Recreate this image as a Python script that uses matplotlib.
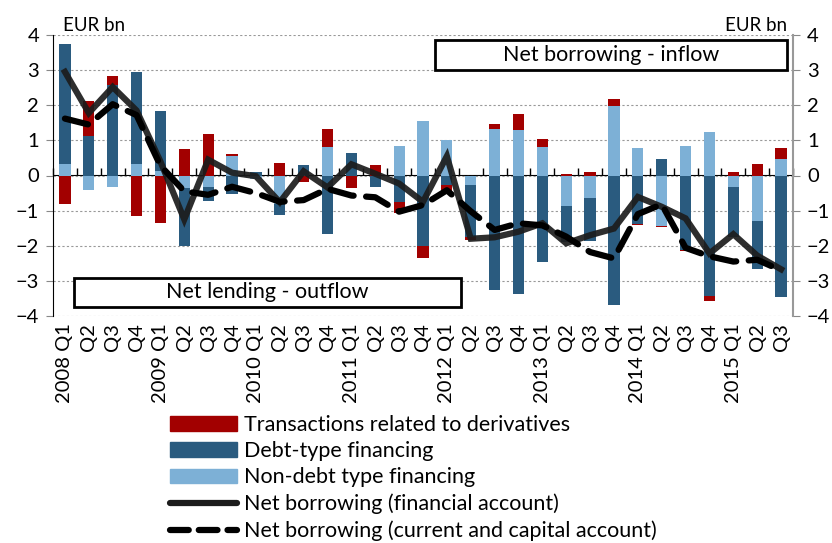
import numpy as np
import matplotlib
matplotlib.use("Agg")
import matplotlib.pyplot as plt
from matplotlib.patches import Patch, Rectangle
from matplotlib.lines import Line2D

plt.rcParams['font.family'] = ['Lato', 'DejaVu Sans']

# quarters 2008 Q1 .. 2015 Q3
years = list(range(2008, 2016))
quarters = []
for yr in years:
    for q in range(1, 5):
        if yr == 2015 and q == 4:
            break
        quarters.append((yr, q))
tick_labels = [f"{yr} Q{q}" if q == 1 else f"Q{q}" for yr, q in quarters]

# EUR bn
derivatives = [-0.80, 1.00, 0.27, -1.16, -1.36, 0.75, 1.17, 0.05, 0.00, 0.37,
               -0.18, 0.49, -0.37, 0.29, -0.33, -0.35, -0.24, -0.10, 0.17, 0.45,
               0.23, 0.04, 0.11, 0.20, -0.04, -0.05, -0.03, -0.15, 0.10, 0.34, 0.29]
debt = [3.39, 1.12, 2.57, 2.62, 1.70, -1.64, -0.40, -0.54, 0.10, -0.33,
        0.29, -1.67, 0.65, -0.32, -0.75, -2.00, -0.27, -1.47, -3.26, -3.37,
        -2.47, -1.02, -1.23, -3.70, -1.38, 0.48, -2.12, -3.42, -1.43, -1.37, -3.47]
non_debt = [0.34, -0.40, -0.34, 0.34, 0.13, -0.37, -0.32, 0.55, -0.10, -0.80,
            0.00, 0.82, 0.00, 0.00, 0.84, 1.55, 1.02, -0.27, 1.31, 1.29,
            0.82, -0.87, -0.63, 1.99, 0.79, -1.43, 0.84, 1.24, -0.32, -1.30, 0.48]
net_fin = [2.95, 1.78, 2.52, 1.85, 0.40, -1.25, 0.45, 0.08, -0.02, -0.76,
           0.12, -0.34, 0.32, 0.05, -0.23, -0.75, 0.55, -1.80, -1.76, -1.60,
           -1.36, -1.93, -1.70, -1.51, -0.61, -0.89, -1.22, -2.22, -1.67, -2.28, -2.67]
net_cur = [1.62, 1.45, 2.03, 1.72, 0.28, -0.45, -0.55, -0.32, -0.50, -0.75,
           -0.70, -0.38, -0.57, -0.62, -1.03, -0.84, -0.42, -1.02, -1.55, -1.36,
           -1.42, -1.74, -2.18, -2.36, -1.10, -0.82, -2.06, -2.30, -2.45, -2.40, -2.70]

red = '#A20000'
dblue = '#2A5B7F'
lblue = '#7DB0D6'
FS = 14.5

fig = plt.figure(figsize=(8.32, 5.43), dpi=100)
ax = fig.add_axes([53/832, 1-316/543, 740/832, 281/543])

x = np.arange(len(quarters))
w = 0.47

# stacked bars, positives up and negatives down separately
pos_base = np.zeros(len(x))
neg_base = np.zeros(len(x))
for vals, col in [(non_debt, lblue), (debt, dblue), (derivatives, red)]:
    v = np.array(vals)
    p = np.where(v > 0, v, 0)
    n = np.where(v < 0, v, 0)
    ax.bar(x, p, w, bottom=pos_base, color=col, zorder=2)
    ax.bar(x, n, w, bottom=neg_base, color=col, zorder=2)
    pos_base += p
    neg_base += n

ax.plot(x, net_fin, color='#1c1c1c', lw=4.5, alpha=0.92, solid_joinstyle='miter', zorder=4)
ax.plot(x, net_cur, color='black', lw=4.5, dashes=(3.8, 2.0), dash_capstyle='round', zorder=5)

ax.set_xlim(-0.5, len(x) - 0.5)
ax.set_ylim(-4, 4)
ax.set_yticks(range(-4, 5))
ax.tick_params(axis='y', labelsize=FS, direction='out', length=5, color='#888888', pad=5)
ax.set_xticks(x)
ax.set_xticklabels(tick_labels, rotation=90, fontsize=FS)
ax.tick_params(axis='x', length=0, pad=5)
ax.yaxis.grid(True, linestyle=(0, (2, 2)), color='#999999', lw=0.8)
ax.set_axisbelow(True)
for s in ['top', 'bottom']:
    ax.spines[s].set_visible(False)
ax.spines['left'].set_color('black')
ax.spines['right'].set_visible(False)

# zero line with category boundary ticks
zero = ax.secondary_xaxis(0.5)
zero.set_xticks(np.arange(-0.5, len(x), 1.0))
zero.set_xticklabels([])
zero.tick_params(direction='out', length=5, width=1, color='black')
zero.spines['bottom'].set_color('black')

ax2 = ax.twinx()
ax2.set_ylim(-4, 4)
ax2.set_yticks(range(-4, 5))
ax2.tick_params(axis='y', labelsize=FS, direction='out', length=5, color='#888888', pad=5)
for s in ['top', 'bottom', 'left']:
    ax2.spines[s].set_visible(False)
ax2.spines['right'].set_color('#999999')
ax2.spines['right'].set_linewidth(1.5)

ax.text(0.013, 1.005, 'EUR bn', transform=ax.transAxes, fontsize=13.5, va='bottom', ha='left')
ax.text(0.992, 1.005, 'EUR bn', transform=ax.transAxes, fontsize=13.5, va='bottom', ha='right')

# annotation boxes
ax.add_patch(Rectangle((0.516, 0.875), 0.476, 0.107, transform=ax.transAxes,
                       fill=True, facecolor='white', edgecolor='black', lw=2, zorder=6))
ax.text(0.754, 0.93, 'Net borrowing - inflow', transform=ax.transAxes,
        ha='center', va='center', fontsize=15.5, zorder=7)
ax.add_patch(Rectangle((0.028, 0.032), 0.523, 0.103, transform=ax.transAxes,
                       fill=True, facecolor='white', edgecolor='black', lw=2, zorder=6))
ax.text(0.29, 0.085, 'Net lending - outflow', transform=ax.transAxes,
        ha='center', va='center', fontsize=15.5, zorder=7)

handles = [Patch(color=red), Patch(color=dblue), Patch(color=lblue),
           Line2D([], [], color='#1c1c1c', lw=4.5, solid_capstyle='round'),
           Line2D([], [], color='black', lw=4.5, dashes=(3.0, 1.6), dash_capstyle='round')]
labels = ['Transactions related to derivatives', 'Debt-type financing',
          'Non-debt type financing', 'Net borrowing (financial account)',
          'Net borrowing (current and capital account)']
fig.legend(handles, labels, loc='upper left', bbox_to_anchor=(170/832, 1-415/543),
           frameon=False, fontsize=15.5, handlelength=3.1, handleheight=0.65,
           handletextpad=0.35, labelspacing=0.29, borderpad=0, borderaxespad=0)

fig.savefig('out.png', dpi=100)
